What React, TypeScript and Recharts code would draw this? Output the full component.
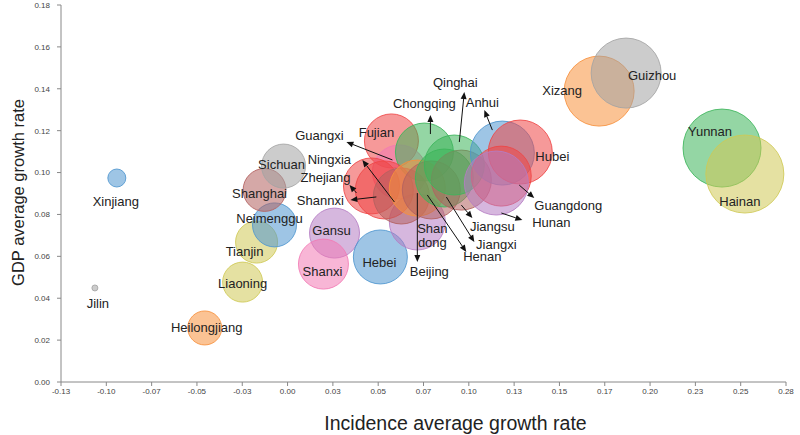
import React from 'react';
import { ScatterChart, Scatter, XAxis, YAxis, ZAxis, Cell, Label } from 'recharts';

// ---- data ----
const provinces = [
  'Jilin', 'Xinjiang', 'Heilongjiang', 'Liaoning', 'Tianjin', 'Neimenggu', 'Shanghai', 'Sichuan',
  'Gansu', 'Shanxi', 'Hebei', 'Shandong', 'Fujian', 'Guangxi', 'Chongqing', 'Zhejiang', 'Shannxi',
  'Ningxia', 'Beijing', 'Henan', 'Jiangxi', 'Jiangsu', 'Qinghai', 'Anhui', 'Hubei', 'Guangdong',
  'Hunan', 'Xizang', 'Guizhou', 'Yunnan', 'Hainan',
];
const incidenceGrowth = [
  -0.1063, -0.0942, -0.0457, -0.0248, -0.0171, -0.0072, -0.0127, -0.0022,
  0.0259, 0.0198, 0.0512, 0.0716, 0.0573, 0.0617, 0.0755, 0.0463, 0.0534,
  0.0628, 0.0716, 0.0793, 0.0865, 0.0959, 0.0920, 0.1185, 0.1284, 0.1179,
  0.1152, 0.1719, 0.1868, 0.2397, 0.2523,
];
const gdpGrowth = [
  0.0449, 0.0974, 0.0258, 0.0477, 0.0668, 0.0750, 0.0917, 0.1031,
  0.0711, 0.0563, 0.0597, 0.0764, 0.1151, 0.1003, 0.1098, 0.0936, 0.0917,
  0.0888, 0.0926, 0.0917, 0.0974, 0.0964, 0.1036, 0.1093, 0.1098, 0.0983,
  0.0950, 0.1389, 0.1475, 0.1117, 0.0993,
];
const bubbleSize = [
  0.09, 0.81, 2.89, 4.0, 4.41, 4.84, 4.6, 4.84,
  6.25, 6.25, 7.29, 7.84, 7.29, 7.29, 8.41, 7.84, 8.41,
  7.84, 7.84, 8.41, 8.41, 9.0, 9.0, 10.24, 10.24, 9.0,
  10.24, 12.25, 12.25, 15.21, 15.21,
];
const colorGroup = [
  'gray', 'blue', 'orange', 'yellow', 'yellow', 'blue', 'brown', 'gray',
  'purple', 'pink', 'blue', 'purple', 'red', 'pink', 'green', 'red', 'red',
  'brown', 'orange', 'brown', 'green', 'brown', 'green', 'blue', 'red', 'red',
  'purple', 'orange', 'gray', 'green', 'yellow',
];
const xTicks = [-0.125, -0.1, -0.075, -0.05, -0.025, 0, 0.025, 0.05, 0.075, 0.1, 0.125, 0.15, 0.175, 0.2, 0.225, 0.25, 0.275];
const yTicks = [0, 0.02, 0.04, 0.06, 0.08, 0.1, 0.12, 0.14, 0.16, 0.18];

// ---- style / layout ----
const palette: Record<string, string> = {
  gray: '#a3a3a3',
  blue: '#4e95cf',
  orange: '#f7913d',
  yellow: '#cfc955',
  green: '#3cb55a',
  red: '#ee4545',
  pink: '#f27ab4',
  purple: '#b57cc3',
  brown: '#b3605f',
};

type LabelLayout = { dx: number; dy: number; lines?: string[]; arrow?: [number, number, number, number] };
const labelLayout: Record<string, LabelLayout> = {
  Jilin: { dx: 3, dy: 16 },
  Xinjiang: { dx: -1, dy: 23 },
  Heilongjiang: { dx: 2, dy: 0 },
  Liaoning: { dx: 0, dy: 1 },
  Tianjin: { dx: -12, dy: 9 },
  Neimenggu: { dx: -5, dy: -6 },
  Shanghai: { dx: -5, dy: 4 },
  Sichuan: { dx: -2, dy: -2 },
  Gansu: { dx: -3, dy: -3 },
  Shanxi: { dx: -1, dy: 7 },
  Hebei: { dx: -1, dy: 6 },
  Shandong: { dx: 15, dy: 14, lines: ['Shan', 'dong'] },
  Fujian: { dx: -15, dy: -8 },
  Xizang: { dx: -37, dy: -1 },
  Guizhou: { dx: 26, dy: 2 },
  Yunnan: { dx: -12, dy: -17 },
  Hainan: { dx: -5, dy: 27 },
  Hubei: { dx: 32, dy: 4 },
  Qinghai: { dx: 1, dy: -83, arrow: [5, -23, 10, -73] },
  Chongqing: { dx: 0, dy: -49, arrow: [6, -18, 6, -37] },
  Anhui: { dx: -20, dy: -51, arrow: [-10, -23, -18, -43] },
  Guangxi: { dx: -80, dy: -36, arrow: [-7, -12, -53, -30] },
  Ningxia: { dx: -72, dy: -37, arrow: [-7, 6, -39, -36] },
  Zhejiang: { dx: -46, dy: -8, arrow: [-15, 7, -22, -1] },
  Shannxi: { dx: -64, dy: 11, arrow: [-8, 7, -34, 10] },
  Beijing: { dx: 12, dy: 83, arrow: [0, 5, 0, 74] },
  Henan: { dx: 51, dy: 67, arrow: [-4, 5, 35, 62] },
  Jiangxi: { dx: 52, dy: 66, arrow: [2, 19, 30, 64] },
  Jiangsu: { dx: 31, dy: 46, arrow: [0, 25, 11, 38] },
  Hunan: { dx: 55, dy: 39, arrow: [5, 30, 26, 37] },
  Guangdong: { dx: 67, dy: 29, arrow: [18, 9, 33, 22] },
};

const data = provinces.map((name, i) => ({
  name,
  x: incidenceGrowth[i],
  y: gdpGrowth[i],
  z: bubbleSize[i],
  group: colorGroup[i],
}));

const FONT = '"Liberation Sans", Arial, sans-serif';

const Bubble = (props: any) => {
  const { cx, cy, payload } = props;
  let r: number;
  if (typeof props.size === 'number' && props.size > 0) r = Math.sqrt(props.size / Math.PI);
  else if (typeof props.width === 'number' && props.width > 0) r = props.width / 2;
  else r = 10 * Math.sqrt(payload.z);
  const c = palette[payload.group];
  return (
    <circle cx={cx} cy={cy} r={r} fill={c} fillOpacity={0.55} stroke={c} strokeOpacity={0.85} strokeWidth={1} />
  );
};

const Annotation = (props: any) => {
  const { cx, cy, payload } = props;
  const lay = labelLayout[payload.name];
  if (!lay) return <g />;
  const lines = lay.lines ?? [payload.name];
  let arrowEl = null;
  if (lay.arrow) {
    const [a, b, c, d] = lay.arrow;
    const x1 = cx + a, y1 = cy + b, x2 = cx + c, y2 = cy + d;
    const len = Math.hypot(x2 - x1, y2 - y1) || 1;
    const ux = (x2 - x1) / len, uy = (y2 - y1) / len;
    const hl = 7, hw = 3;
    const bx = x2 - ux * hl, by = y2 - uy * hl;
    const pts = `${x2},${y2} ${bx - uy * hw},${by + ux * hw} ${bx + uy * hw},${by - ux * hw}`;
    arrowEl = (
      <g>
        <line x1={x1} y1={y1} x2={bx} y2={by} stroke="#111" strokeWidth={1} />
        <polygon points={pts} fill="#111" />
      </g>
    );
  }
  const lh = 14;
  return (
    <g>
      {arrowEl}
      {lines.map((t, k) => (
        <text
          key={k}
          x={cx + lay.dx}
          y={cy + lay.dy + (k - (lines.length - 1) / 2) * lh}
          textAnchor="middle"
          dominantBaseline="central"
          fontSize={13}
          fontFamily={FONT}
          fill="#222"
        >
          {t}
        </text>
      ))}
    </g>
  );
};

export default function App() {
  return (
    <div style={{ width: 800, height: 435 }}>
      <style>{'body{margin:0}'}</style>
      <ScatterChart width={800} height={435} margin={{ top: 5, right: 14, bottom: 0, left: 0 }}>
        <XAxis
          type="number"
          dataKey="x"
          domain={[-0.125, 0.275]}
          ticks={xTicks}
          interval={0}
          allowDataOverflow
          tickFormatter={(v: number) => v.toFixed(2)}
          tick={{ fontSize: 8, fill: '#444', fontFamily: FONT }}
          tickSize={4}
          tickMargin={2}
          axisLine={{ stroke: '#888' }}
          tickLine={{ stroke: '#888' }}
          height={53}
        >
          <Label
            content={(p: any) => {
              const vb = p.viewBox || { x: 61, y: 382, width: 725, height: 53 };
              return (
                <text x={vb.x + vb.width / 2 + 32} y={vb.y + 41} textAnchor="middle" dominantBaseline="central" fontSize={19.5} fontFamily={FONT} fill="#222">
                  Incidence average growth rate
                </text>
              );
            }}
          />
        </XAxis>
        <YAxis
          type="number"
          dataKey="y"
          domain={[0, 0.18]}
          ticks={yTicks}
          interval={0}
          allowDataOverflow
          tickFormatter={(v: number) => v.toFixed(2)}
          tick={{ fontSize: 8, fill: '#444', fontFamily: FONT }}
          tickSize={4}
          tickMargin={7}
          axisLine={{ stroke: '#888' }}
          tickLine={{ stroke: '#888' }}
          width={61}
        >
          <Label
            content={(p: any) => {
              const vb = p.viewBox || { x: 0, y: 5, width: 61, height: 377 };
              const cy = vb.y + vb.height / 2 - 1;
              return (
                <text x={18} y={cy} transform={`rotate(-90 18 ${cy})`} textAnchor="middle" dominantBaseline="central" fontSize={16.5} fontFamily={FONT} fill="#222">
                  GDP average growth rate
                </text>
              );
            }}
          />
        </YAxis>
        <ZAxis type="number" dataKey="z" domain={[0, 16]} range={[0, Math.PI * 1600]} />
        <Scatter data={data} shape={Bubble} isAnimationActive={false} legendType="none">
          {data.map((d, i) => (
            <Cell key={i} fill={palette[d.group]} />
          ))}
        </Scatter>
        <Scatter data={data} shape={Annotation} isAnimationActive={false} legendType="none" />
      </ScatterChart>
    </div>
  );
}
